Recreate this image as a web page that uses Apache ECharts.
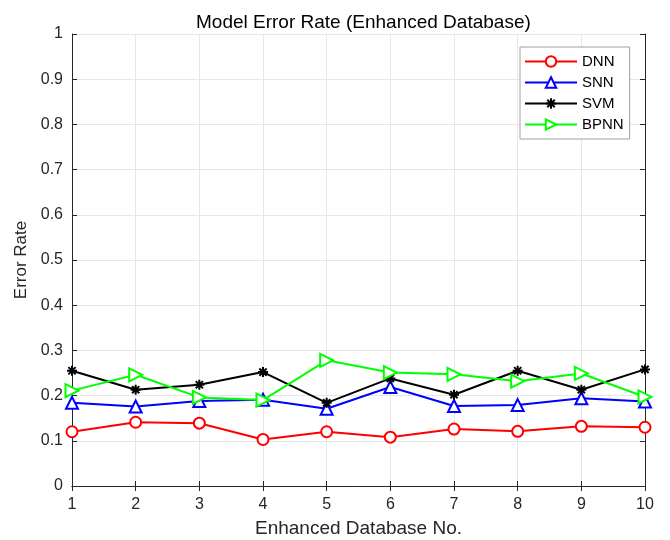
<!DOCTYPE html>
<html>
<head>
<meta charset="utf-8">
<script src="https://cdn.jsdelivr.net/npm/echarts@6/dist/echarts.min.js"></script>
<style>
  html, body { margin: 0; padding: 0; background: #fff; }
  #chart { width: 670px; height: 540px; }
</style>
</head>
<body>
<div id="chart"></div>
<script>
// Database index along the x axis
const databases = [1, 2, 3, 4, 5, 6, 7, 8, 9, 10];

// Error rate of each model per enhanced database
const dnn  = [0.120, 0.141, 0.139, 0.103, 0.120, 0.108, 0.126, 0.121, 0.132, 0.130];
const snn  = [0.184, 0.176, 0.188, 0.191, 0.171, 0.219, 0.177, 0.179, 0.194, 0.187];
const svm  = [0.255, 0.213, 0.224, 0.252, 0.184, 0.238, 0.202, 0.255, 0.213, 0.258];
const bpnn = [0.211, 0.246, 0.196, 0.190, 0.278, 0.251, 0.247, 0.232, 0.249, 0.197];

const FONT = '"Liberation Sans", Arial, Helvetica, sans-serif';
const AXIS_COLOR = '#262626';

// MATLAB-like asterisk and right-pointing triangle markers
const ASTERISK = 'path://M0,-5L0,5M-5,0L5,0M-3.6,-3.6L3.6,3.6M-3.6,3.6L3.6,-3.6';
const TRI_RIGHT = 'path://M0,0L10,5L0,10Z';

function pairs(values) {
  return databases.map((x, i) => [x, values[i]]);
}

// Hollow markers: white fill, coloured outline
function makeSeries(name, values, color, symbol, size, opts) {
  return Object.assign({
    name: name,
    type: 'line',
    data: pairs(values),
    symbol: symbol,
    symbolSize: size,
    showSymbol: true,
    lineStyle: { color: color, width: 2 },
    itemStyle: { color: '#fff', borderColor: color, borderWidth: 2 },
    emphasis: { disabled: true },
    z: 3
  }, opts || {});
}

const chart = echarts.init(document.getElementById('chart'), null, { renderer: 'canvas' });

const frameAxis = {
  axisLine: { show: true, lineStyle: { color: AXIS_COLOR, width: 1 } },
  axisTick: { show: true, inside: true, length: 5, lineStyle: { color: AXIS_COLOR } },
  axisLabel: { show: false },
  splitLine: { show: false }
};

chart.setOption({
  animation: false,
  backgroundColor: '#fff',
  title: {
    text: 'Model Error Rate (Enhanced Database)',
    left: 191,
    top: 8,
    textStyle: { fontFamily: FONT, fontSize: 19, fontWeight: 'normal', color: '#000' }
  },
  grid: {
    left: 72, right: 25, top: 34, bottom: 54,
    containLabel: false,
    outerBoundsMode: 'none'
  },
  legend: {
    left: 520,
    top: 47,
    orient: 'vertical',
    itemWidth: 52,
    itemHeight: 13,
    itemGap: 6,
    padding: [7, 6, 7, 4],
    backgroundColor: '#fff',
    borderColor: '#a0a0a0',
    borderWidth: 1,
    textStyle: { fontFamily: FONT, fontSize: 15, color: '#000', padding: [1, 0, 0, 0] },
    data: ['DNN', 'SNN', 'SVM', 'BPNN']
  },
  xAxis: [
    {
      type: 'value', min: 1, max: 10, interval: 1,
      name: 'Enhanced Database No.',
      nameLocation: 'middle', nameGap: 33,
      nameTextStyle: { fontFamily: FONT, fontSize: 19, color: AXIS_COLOR },
      axisLine: { show: true, lineStyle: { color: AXIS_COLOR, width: 1 } },
      axisTick: { show: true, inside: true, length: 5, lineStyle: { color: AXIS_COLOR } },
      axisLabel: { fontFamily: FONT, fontSize: 16, color: AXIS_COLOR, margin: 11 },
      splitLine: { show: true, lineStyle: { color: '#e6e6e6', width: 1 } }
    },
    Object.assign({ type: 'value', position: 'top', min: 1, max: 10, interval: 1 }, frameAxis)
  ],
  yAxis: [
    {
      type: 'value', min: 0, max: 1, interval: 0.1,
      name: 'Error Rate',
      nameLocation: 'middle', nameGap: 38,
      nameTextStyle: { fontFamily: FONT, fontSize: 17, color: AXIS_COLOR },
      axisLine: { show: true, lineStyle: { color: AXIS_COLOR, width: 1 } },
      axisTick: { show: true, inside: true, length: 5, lineStyle: { color: AXIS_COLOR } },
      axisLabel: {
        fontFamily: FONT, fontSize: 16, color: AXIS_COLOR, margin: 9,
        formatter: v => (Math.round(v * 10) / 10).toString()
      },
      splitLine: { show: true, lineStyle: { color: '#e6e6e6', width: 1 } }
    },
    Object.assign({ type: 'value', position: 'right', min: 0, max: 1, interval: 0.1 }, frameAxis)
  ],
  series: [
    makeSeries('DNN', dnn, '#ff0000', 'circle', 11),
    makeSeries('SNN', snn, '#0000ff', 'triangle', 12),
    makeSeries('SVM', svm, '#000000', ASTERISK, 10, {
      itemStyle: { color: '#000', borderColor: '#000', borderWidth: 2 }
    }),
    makeSeries('BPNN', bpnn, '#00ff00', TRI_RIGHT, 13)
  ]
});
</script>
</body>
</html>
